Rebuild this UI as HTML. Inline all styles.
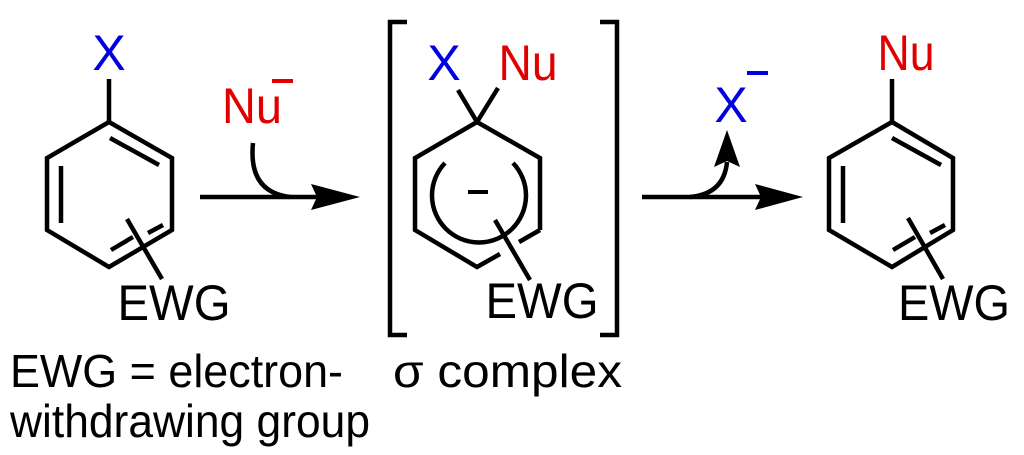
<!DOCTYPE html>
<html><head><meta charset="utf-8"><style>
html,body{margin:0;padding:0;background:#fff;}
svg{display:block;}
text{font-family:"Liberation Sans",Arial,sans-serif;}
</style></head><body>
<svg width="1024" height="455" viewBox="0 0 1024 455" xmlns="http://www.w3.org/2000/svg">
<g stroke="#000" stroke-width="4.5" fill="none" stroke-linecap="butt" stroke-linejoin="miter">
<polygon points="109,122 172,158 172,230 109,267 47,230 47,158"/>
<line x1="109" y1="122" x2="109" y2="79"/>
<line x1="110" y1="138" x2="159" y2="165"/>
<line x1="61" y1="166" x2="61" y2="223"/>
<line x1="111" y1="250" x2="133" y2="237"/>
<line x1="148" y1="233" x2="163" y2="225"/>
<line x1="127" y1="219" x2="162" y2="279"/>
<line x1="200" y1="197" x2="320" y2="197"/>
<path d="M253,143 Q248,192 290,197"/>
<polyline points="407,22 390,22 390,335 407,335"/>
<polyline points="600,22 617,22 617,335 600,335"/>
<polyline points="540,230 540,158 477,122 415,158 415,230 477,267 500,254"/>
<line x1="540" y1="230" x2="519" y2="242"/>
<line x1="477" y1="122" x2="458" y2="90"/>
<line x1="477" y1="122" x2="498" y2="88"/>
<path d="M445,163 A47,47 0 1,0 513,163"/>
<line x1="495" y1="220" x2="530" y2="280"/>
<line x1="642" y1="197" x2="762" y2="197"/>
<path d="M690,197 Q724,194 727,162"/>
<polygon points="892,122 953,158 953,230 892,267 829,230 829,158"/>
<line x1="892" y1="122" x2="892" y2="79"/>
<line x1="892" y1="138" x2="941" y2="165"/>
<line x1="843" y1="166" x2="843" y2="223"/>
<line x1="893" y1="250" x2="915" y2="237"/>
<line x1="930" y1="233" x2="945" y2="225"/>
<line x1="908" y1="218" x2="943" y2="279"/>
</g>
<g fill="#000">
<polygon points="360,197 311,184 317,197 311,210"/>
<polygon points="803,197 755,184 761,197 755,210"/>
<polygon points="727,130 714,167 727,161 740,167"/>
<rect x="468" y="190" width="20" height="4"/>
</g>
<rect x="272" y="79" width="21" height="4" fill="#e00000"/>
<rect x="747" y="71" width="21" height="4" fill="#0000e0"/>
<g font-size="50">
<text x="109" y="70" text-anchor="middle" fill="#0000e0">X</text>
<text x="252" y="123" text-anchor="middle" fill="#e00000" textLength="60" lengthAdjust="spacingAndGlyphs">Nu</text>
<text x="174" y="320" text-anchor="middle" fill="#000" textLength="113" lengthAdjust="spacingAndGlyphs">EWG</text>
<text x="444" y="80" text-anchor="middle" fill="#0000e0">X</text>
<text x="528" y="80" text-anchor="middle" fill="#e00000" textLength="59" lengthAdjust="spacingAndGlyphs">Nu</text>
<text x="542" y="318" text-anchor="middle" fill="#000" textLength="113" lengthAdjust="spacingAndGlyphs">EWG</text>
<text x="731" y="122" text-anchor="middle" fill="#0000e0">X</text>
<text x="906" y="70" text-anchor="middle" fill="#e00000" textLength="57" lengthAdjust="spacingAndGlyphs">Nu</text>
<text x="954" y="320" text-anchor="middle" fill="#000" textLength="112" lengthAdjust="spacingAndGlyphs">EWG</text>
</g>
<g font-size="46" fill="#000">
<text x="10" y="387" textLength="333" lengthAdjust="spacingAndGlyphs">EWG = electron-</text>
<text x="10" y="437" textLength="360" lengthAdjust="spacingAndGlyphs">withdrawing group</text>
<text x="393" y="387" textLength="229" lengthAdjust="spacingAndGlyphs">σ complex</text>
</g>
</svg>
</body></html>
